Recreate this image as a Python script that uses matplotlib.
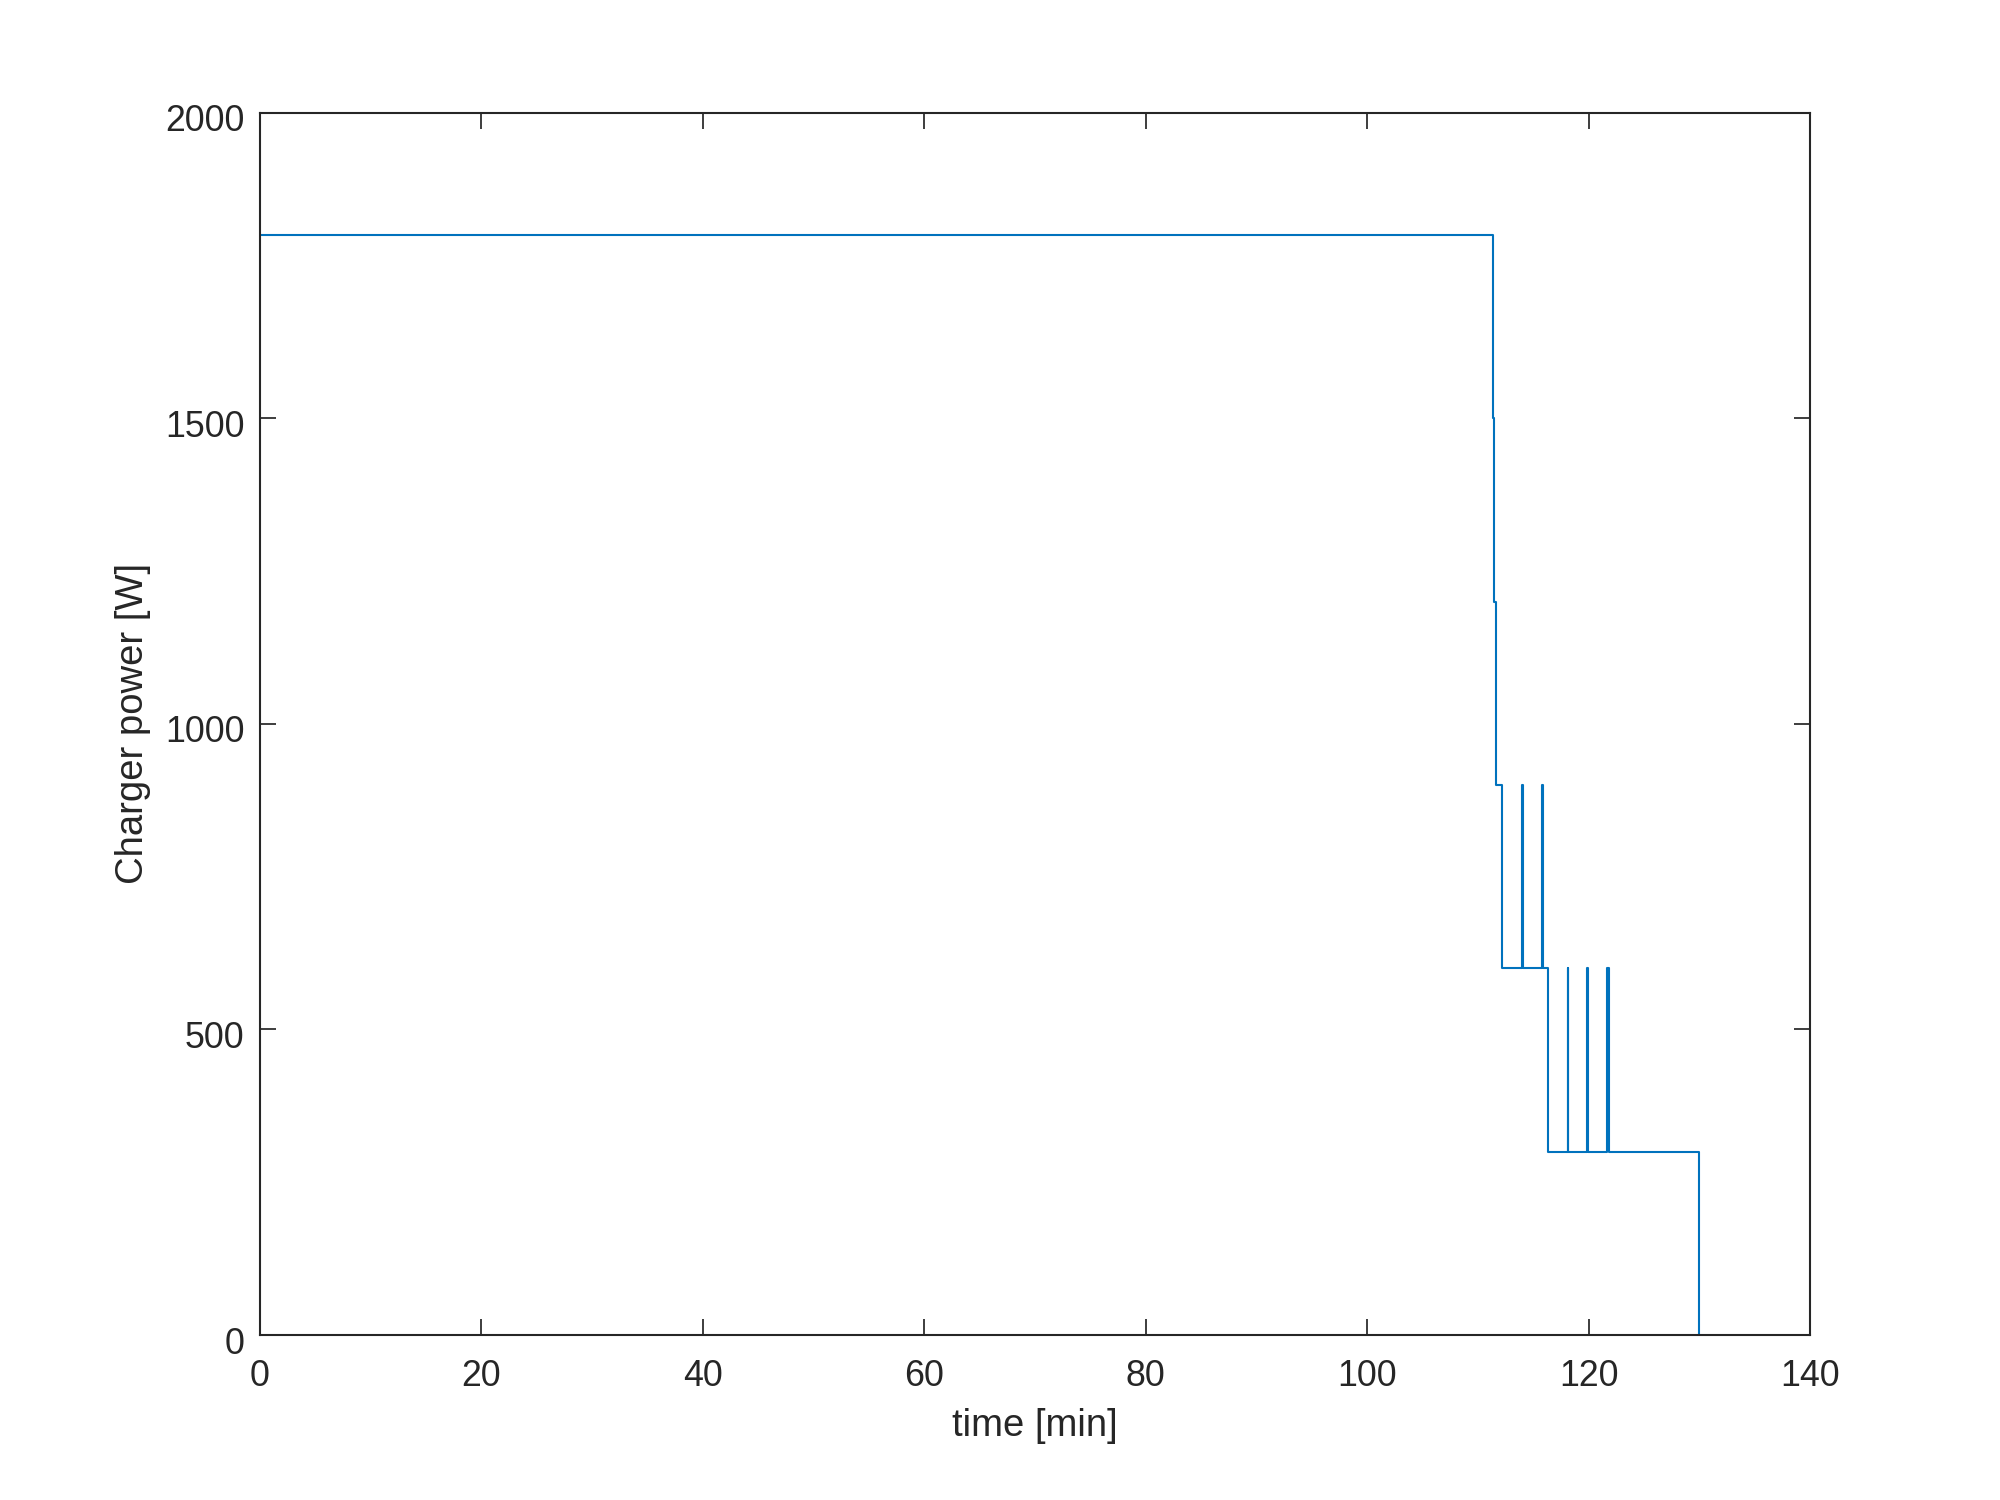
"""Charger power step profile over time."""

import matplotlib
matplotlib.use("Agg")
import matplotlib.pyplot as plt
from matplotlib.transforms import ScaledTranslation

# step profile: power holds from each time until the next one
time_min = [0, 111.4, 111.5, 111.6, 112.2,
            114.0, 114.1, 115.8, 115.85, 116.3,
            118.1, 118.15, 119.9, 119.95, 121.7, 121.8, 130.0]
power_w = [1800, 1500, 1200, 900, 600,
           900, 600, 900, 600, 300,
           600, 300, 600, 300, 600, 300, 0]

xticks = [0, 20, 40, 60, 80, 100, 120, 140]
yticks = [0, 500, 1000, 1500, 2000]

plt.rcParams["font.family"] = ["Liberation Sans", "DejaVu Sans"]
ink = "#262626"

fig = plt.figure(figsize=(8, 6), dpi=250)
ax = fig.add_axes([0.13, 0.11, 0.775, 0.815])

ax.plot(time_min, power_w, drawstyle="steps-post", color="#0072BD", linewidth=0.6)

ax.set_xlim(0, 140)
ax.set_ylim(0, 2000)
ax.set_xticks(xticks)
ax.set_yticks(yticks)
ax.tick_params(direction="in", top=True, right=True, length=4.5, width=0.5,
               colors=ink, labelsize=10.3)
ax.tick_params(axis="x", pad=7)
ax.tick_params(axis="y", pad=4.5)
for s in ax.spines.values():
    s.set_color(ink)
    s.set_linewidth(0.6)

# y tick labels sit a touch below their ticks in the reference
shift = ScaledTranslation(0, -1.5 / 72, fig.dpi_scale_trans)
for lbl in ax.get_yticklabels():
    lbl.set_transform(lbl.get_transform() + shift)

ax.set_xlabel("time [min]", fontsize=11, color=ink, labelpad=4)
ax.set_ylabel("Charger power [W]", fontsize=11, color=ink, labelpad=4)

fig.savefig("out.png", dpi=250)
